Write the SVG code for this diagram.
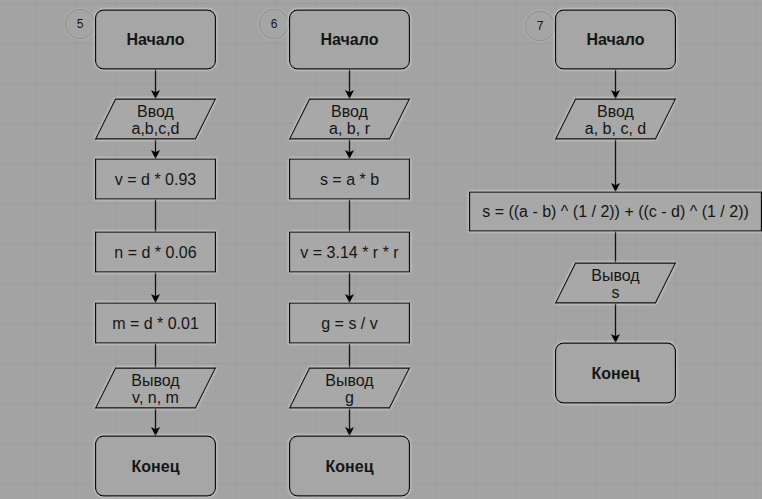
<svg xmlns="http://www.w3.org/2000/svg" width="762" height="499" viewBox="0 0 762 499">
<defs>
<pattern id="grid" x="35" y="3" width="40" height="40" patternUnits="userSpaceOnUse">
<path d="M0 0H40M0 0V40" fill="none" stroke="#989898" stroke-width="1"/>
</pattern>
<filter id="glow" x="-10%" y="-20%" width="120%" height="140%">
<feDropShadow dx="0" dy="0" stdDeviation="1.6" flood-color="#ffffff" flood-opacity="0.7"/>
</filter>
<filter id="glow2" x="-30%" y="-30%" width="160%" height="160%">
<feDropShadow dx="0" dy="0" stdDeviation="1" flood-color="#ffffff" flood-opacity="0.35"/>
</filter>
<marker id="arr" viewBox="0 0 10 10" refX="10" refY="5" markerWidth="9" markerHeight="9" markerUnits="userSpaceOnUse" orient="auto">
<path d="M0 0L10 5L0 10L2.5 5Z" fill="#000"/>
</marker>
</defs>
<style>
.term{fill:#a6a6a6;stroke:#111;stroke-width:1.3;filter:url(#glow)}
.proc{fill:#a8a8a8;stroke:#111;stroke-width:1.3;filter:url(#glow)}
.io{fill:#a8a8a8;stroke:#111;stroke-width:1.3;filter:url(#glow)}
.num{fill:#a5a5a5;stroke:#8c8c8c;stroke-width:1;filter:url(#glow2)}
text{font-family:"Liberation Sans",Arial,sans-serif;fill:#151515;text-anchor:middle}
.b{font-weight:bold;font-size:16px}
.t{font-size:16px}
.n{font-size:12px}
.c line{stroke:#111;stroke-width:1.3}
.a{marker-end:url(#arr)}
</style>
<rect width="762" height="499" fill="#a3a3a3"/>
<rect width="762" height="499" fill="url(#grid)"/>

<g class="c" id="connectors">
<line class="a" x1="155.5" y1="69" x2="155.5" y2="99"/>
<line class="a" x1="155.5" y1="139" x2="155.5" y2="159"/>
<line x1="155.5" y1="199" x2="155.5" y2="232"/>
<line class="a" x1="155.5" y1="272" x2="155.5" y2="303"/>
<line x1="155.5" y1="343" x2="155.5" y2="368"/>
<line class="a" x1="155.5" y1="408" x2="155.5" y2="436"/>

<line class="a" x1="349.5" y1="69" x2="349.5" y2="99"/>
<line class="a" x1="349.5" y1="139" x2="349.5" y2="159"/>
<line x1="349.5" y1="199" x2="349.5" y2="232"/>
<line class="a" x1="349.5" y1="272" x2="349.5" y2="303"/>
<line x1="349.5" y1="343" x2="349.5" y2="368"/>
<line class="a" x1="349.5" y1="408" x2="349.5" y2="436"/>

<line class="a" x1="615.5" y1="69" x2="615.5" y2="99"/>
<line class="a" x1="615.5" y1="139" x2="615.5" y2="192"/>
<line x1="615.5" y1="231" x2="615.5" y2="263"/>
<line class="a" x1="615.5" y1="303" x2="615.5" y2="343"/>
</g>

<!-- Column 1 -->
<g id="num5"><circle class="num" cx="80" cy="24" r="15"/><text class="n" x="80" y="28">5</text></g>
<g id="start1"><rect class="term" x="95.5" y="10" width="120" height="59" rx="8"/><text class="b" x="155.5" y="45">Начало</text></g>
<g id="in1"><path class="io" d="M115.5 99H215.5L195.5 139H95.5Z"/><text class="t" x="155.5" y="117">Ввод</text><text class="t" x="155.5" y="134">a,b,c,d</text></g>
<g id="p1v"><rect class="proc" x="95.5" y="159" width="120" height="40"/><text class="t" x="155.5" y="185">v = d * 0.93</text></g>
<g id="p1n"><rect class="proc" x="95.5" y="232" width="120" height="40"/><text class="t" x="155.5" y="258">n = d * 0.06</text></g>
<g id="p1m"><rect class="proc" x="95.5" y="303" width="120" height="40"/><text class="t" x="155.5" y="329">m = d * 0.01</text></g>
<g id="out1"><path class="io" d="M115.5 368H215.5L195.5 408H95.5Z"/><text class="t" x="155.5" y="386">Вывод</text><text class="t" x="155.5" y="403">v, n, m</text></g>
<g id="end1"><rect class="term" x="95.5" y="436" width="120" height="60" rx="8"/><text class="b" x="155.5" y="472">Конец</text></g>

<!-- Column 2 -->
<g id="num6"><circle class="num" cx="274" cy="24" r="15"/><text class="n" x="274" y="28">6</text></g>
<g id="start2"><rect class="term" x="289.5" y="10" width="120" height="59" rx="8"/><text class="b" x="349.5" y="45">Начало</text></g>
<g id="in2"><path class="io" d="M309.5 99H409.5L389.5 139H289.5Z"/><text class="t" x="349.5" y="117">Ввод</text><text class="t" x="349.5" y="134">a, b, r</text></g>
<g id="p2s"><rect class="proc" x="289.5" y="159" width="120" height="40"/><text class="t" x="349.5" y="185">s = a * b</text></g>
<g id="p2v"><rect class="proc" x="289.5" y="232" width="120" height="40"/><text class="t" x="349.5" y="258">v = 3.14 * r * r</text></g>
<g id="p2g"><rect class="proc" x="289.5" y="303" width="120" height="40"/><text class="t" x="349.5" y="329">g = s / v</text></g>
<g id="out2"><path class="io" d="M309.5 368H409.5L389.5 408H289.5Z"/><text class="t" x="349.5" y="386">Вывод</text><text class="t" x="349.5" y="403">g</text></g>
<g id="end2"><rect class="term" x="289.5" y="436" width="120" height="60" rx="8"/><text class="b" x="349.5" y="472">Конец</text></g>

<!-- Column 3 -->
<g id="num7"><circle class="num" cx="540" cy="26" r="15"/><text class="n" x="540" y="30">7</text></g>
<g id="start3"><rect class="term" x="555.5" y="10" width="120" height="59" rx="8"/><text class="b" x="615.5" y="45">Начало</text></g>
<g id="in3"><path class="io" d="M575.5 99H675.5L655.5 139H555.5Z"/><text class="t" x="615.5" y="117">Ввод</text><text class="t" x="615.5" y="134">a, b, c, d</text></g>
<g id="p3s"><rect class="proc" x="469.5" y="192" width="292" height="39"/><text class="t" x="615.5" y="217">s = ((a - b) ^ (1 / 2)) + ((c - d) ^ (1 / 2))</text></g>
<g id="out3"><path class="io" d="M575.5 263H675.5L655.5 303H555.5Z"/><text class="t" x="615.5" y="281">Вывод</text><text class="t" x="615.5" y="298">s</text></g>
<g id="end3"><rect class="term" x="555.5" y="343" width="120" height="60" rx="8"/><text class="b" x="615.5" y="379">Конец</text></g>
</svg>
